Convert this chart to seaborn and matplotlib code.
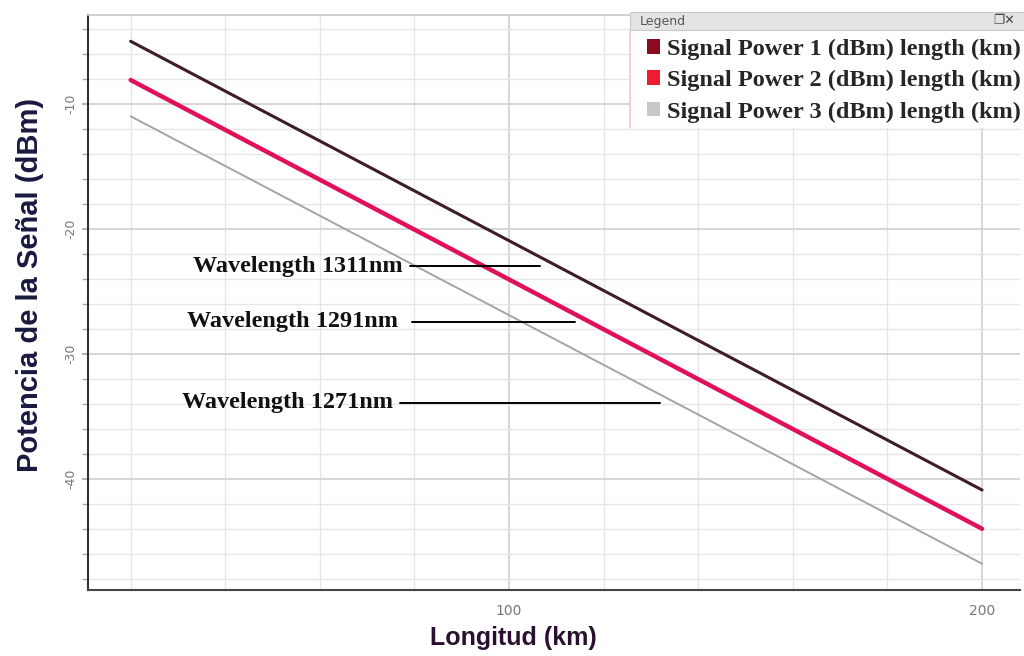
import matplotlib
matplotlib.use("Agg")
import matplotlib.pyplot as plt
import seaborn as sns
import pandas as pd
from matplotlib.patches import Patch, Rectangle
from matplotlib.ticker import MultipleLocator

# ---- data ----
length_km = [20, 200]
power_1311 = [-5.0, -40.9]
power_1291 = [-8.1, -44.0]
power_1271 = [-11.0, -46.8]
series_names = ["Signal Power 1 (dBm) length (km)",
                "Signal Power 2 (dBm) length (km)",
                "Signal Power 3 (dBm) length (km)"]
wavelength_labels = ["Wavelength 1311nm", "Wavelength 1291nm", "Wavelength 1271nm"]
label_y = [-23.0, -27.45, -33.9]
label_line_x = [(79.0, 106.5), (79.5, 114.0), (77.0, 132.0)]
label_text_x = [77.5, 76.5, 75.5]

df = pd.DataFrame({
    "length": length_km * 3,
    "power": power_1311 + power_1291 + power_1271,
    "series": [series_names[0]] * 2 + [series_names[1]] * 2 + [series_names[2]] * 2,
})

sns.set_theme(style="white")
plt.rcParams["axes.unicode_minus"] = False

fig = plt.figure(figsize=(10.24, 6.56), dpi=100)
ax = fig.add_axes([0.086, 0.1006, 0.91, 0.8765])

line_colors = ["#3e1c28", "#e0105a", "#a4a4a4"]
widths = [2.2, 3.2, 1.4]
sns.lineplot(data=df, x="length", y="power", hue="series", palette=line_colors,
             ax=ax, legend=False)
for ln, w in zip(ax.get_lines(), widths):
    ln.set_linewidth(w)

ax.set_xlim(11, 208)
ax.set_ylim(-48.9, -2.9)
ax.xaxis.set_major_locator(MultipleLocator(100))
ax.xaxis.set_minor_locator(MultipleLocator(20))
ax.yaxis.set_major_locator(MultipleLocator(10))
ax.yaxis.set_minor_locator(MultipleLocator(2))
ax.grid(True, which="minor", color="#e6e6e6", linewidth=1.0)
ax.grid(True, which="major", color="#d0d0d0", linewidth=1.2)
ax.set_axisbelow(True)
ax.tick_params(axis="y", which="both", left=True, length=4, color="#aaaaaa",
               labelsize=9, labelcolor="#777777", labelrotation=90)
ax.tick_params(axis="x", which="both", bottom=False, labelsize=10, labelcolor="#777777", pad=4)
ax.xaxis.set_minor_formatter(plt.NullFormatter())
for lbl in ax.get_yticklabels():
    lbl.set_va("center")
ax.spines["left"].set_color("#333333")
ax.spines["left"].set_linewidth(1.5)
ax.spines["bottom"].set_color("#444444")
ax.spines["bottom"].set_linewidth(1.5)
ax.spines["top"].set_color("#cccccc")
ax.spines["right"].set_visible(False)

ax.set_xlabel("Longitud (km)", fontsize=18, fontweight="bold", color="#2a1030",
              family="Liberation Sans")
ax.xaxis.set_label_coords(0.456, -0.063)
ax.set_ylabel("Potencia de la Señal (dBm)", fontsize=21, fontweight="bold",
              color="#1a1a40", family="Liberation Sans")
ax.yaxis.set_label_coords(-0.047, 0.53)

for txt, y, (x0, x1), tx in zip(wavelength_labels, label_y, label_line_x, label_text_x):
    ax.text(tx, y, txt, ha="right", va="center", fontsize=17.5, fontweight="bold",
            family="Liberation Serif", color="#111111")
    ax.plot([x0, x1], [y, y], color="black", linewidth=1.4)

# legend panel
fig.patches.append(Rectangle((630 / 1024, 1 - 30 / 656), 394 / 1024, 18 / 656,
                             transform=fig.transFigure, facecolor="#e4e4e4",
                             edgecolor="#c8c8c8", linewidth=0.8, zorder=5))
fig.patches.append(Rectangle((630 / 1024, 1 - 128 / 656), 394 / 1024, 98 / 656,
                             transform=fig.transFigure, facecolor="white",
                             edgecolor="none", zorder=4))
fig.lines.append(plt.Line2D([630 / 1024, 630 / 1024], [1 - 128 / 656, 1 - 30 / 656],
                            transform=fig.transFigure, color="#f4c8d0", linewidth=1.2, zorder=6))
fig.text(640 / 1024, 1 - 21 / 656, "Legend", fontsize=9, color="#555555",
         va="center", ha="left", zorder=6)
fig.text(1015 / 1024, 1 - 21 / 656, "\u2750\u2715", fontsize=9, color="#444444",
         va="center", ha="right", zorder=6, family="DejaVu Sans")

legend_colors = ["#8b0a1e", "#ee1c2e", "#c8c8c8"]
handles = [Patch(facecolor=c, edgecolor="none") for c in legend_colors]
leg = fig.legend(handles, series_names, loc="upper right",
                 bbox_to_anchor=(1.006, 1 - 29 / 656), frameon=False,
                 prop={"family": "Liberation Serif", "weight": "bold", "size": 17.5},
                 handlelength=0.55, handleheight=0.55, handletextpad=0.25,
                 labelspacing=0.42, borderaxespad=0.0)
leg.set_zorder(7)

fig.savefig("out.png", dpi=100)
